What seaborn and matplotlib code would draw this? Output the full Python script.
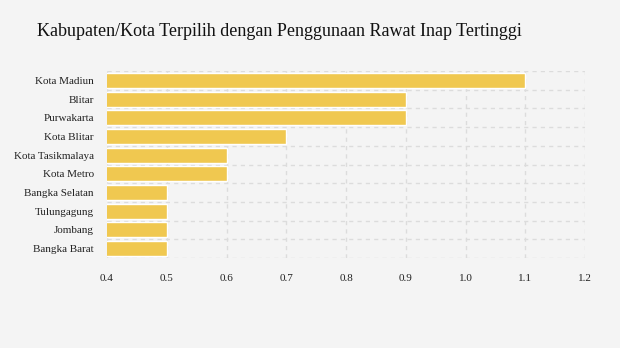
import matplotlib
matplotlib.use("Agg")
import matplotlib.pyplot as plt
import seaborn as sns
import pandas as pd
import numpy as np

categories = ["Kota Madiun", "Blitar", "Purwakarta", "Kota Blitar", "Kota Tasikmalaya",
              "Kota Metro", "Bangka Selatan", "Tulungagung", "Jombang", "Bangka Barat"]
values = [1.1, 0.9, 0.9, 0.7, 0.6, 0.6, 0.5, 0.5, 0.5, 0.5]
xticks = [0.4, 0.5, 0.6, 0.7, 0.8, 0.9, 1.0, 1.1, 1.2]
title = "Kabupaten/Kota Terpilih dengan Penggunaan Rawat Inap Tertinggi"

df = pd.DataFrame({"kategori": categories, "nilai": values})

sns.set_style("white")
plt.rcParams["font.family"] = ["Liberation Serif", "DejaVu Serif"]

bg = "#f4f4f4"
fig = plt.figure(figsize=(6.2, 3.48), dpi=100, facecolor=bg)
ax = fig.add_axes([107/620, 1-258/348, (585-107)/620, (258-71)/348])
ax.set_facecolor(bg)

sns.barplot(data=df, x="nilai", y="kategori", orient="h", color="#f0c850",
            saturation=1, width=0.8, ax=ax)

ax.set_xlim(0.4, 1.2)
ax.set_ylim(len(categories) - 0.5, -0.5)
ax.set_xticks(xticks)
ax.set_xticklabels([f"{t:.1f}" for t in xticks])
ax.set_yticks(range(len(categories)))
ax.set_yticks(np.arange(-0.5, len(categories), 1.0), minor=True)
ax.set_xlabel("")
ax.set_ylabel("")

for s in ax.spines.values():
    s.set_visible(False)

ax.grid(False)
ax.set_axisbelow(True)
gcol = "#dcdcdc"
ax.grid(True, axis="x", which="major", color=gcol, linestyle=(0, (3, 3)), linewidth=1)
ax.grid(True, axis="y", which="minor", color=gcol, linestyle=(0, (3, 3)), linewidth=1)

ax.tick_params(axis="x", which="major", length=0, pad=11.5, labelsize=8, labelcolor="#222222")
ax.tick_params(axis="y", which="major", length=3.5, width=1, color="#dddddd", pad=6,
               labelsize=8, labelcolor="#222222")
ax.tick_params(axis="y", which="minor", length=0)

fig.text(37/620, 1-31/348, title, fontsize=13, color="#111111", va="center", ha="left")

fig.savefig("out.png", dpi=100, facecolor=bg)
